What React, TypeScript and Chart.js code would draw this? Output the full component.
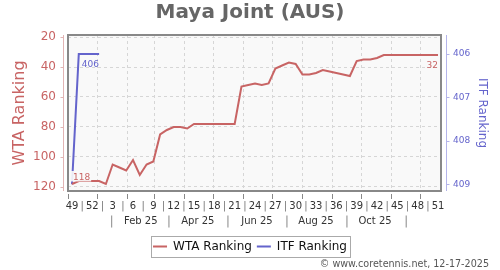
import React, { useEffect, useRef } from "react";
import { Chart, registerables } from "chart.js";

Chart.register(...registerables);

const TITLE = "Maya Joint (AUS)";
const FOOTER = "© www.coretennis.net, 12-17-2025";
const WTA_LABEL = "WTA Ranking";
const ITF_LABEL = "ITF Ranking";

// one point per week, from week 49 of 2024 to week 51 of 2025
const weekNumbers = [
  49, 50, 51, 52, 1, 2, 3, 4, 5, 6, 7, 8, 9, 10, 11, 12, 13, 14, 15, 16, 17, 18, 19,
  20, 21, 22, 23, 24, 25, 26, 27, 28, 29, 30, 31, 32, 33, 34, 35, 36, 37, 38, 39, 40,
  41, 42, 43, 44, 45, 46, 47, 48, 49, 50, 51,
];
const wtaRanking = [
  118, 116, 116, 116, 116, 118, 105, 107, 109, 102, 112, 105, 103, 85, 82, 80, 80, 81,
  78, 78, 78, 78, 78, 78, 78, 53, 52, 51, 52, 51, 41, 39, 37, 38, 45, 45, 44, 42, 43,
  44, 45, 46, 36, 35, 35, 34, 32, 32, 32, 32, 32, 32, 32, 32, 32,
];
const itfRanking = [409, 406, 406, 406, 406];

const wtaTicks = [20, 40, 60, 80, 100, 120];
const itfTicks = [406, 407, 408, 409];

const firstWeekDate = "2024-12-06";
const monthGridDates = [
  "2025-01-01", "2025-02-01", "2025-03-01", "2025-04-01", "2025-05-01", "2025-06-01",
  "2025-07-01", "2025-08-01", "2025-09-01", "2025-10-01", "2025-11-01", "2025-12-01",
];
const monthLabels = ["Feb 25", "Apr 25", "Jun 25", "Aug 25", "Oct 25"];
const monthLabelDates = ["2025-02-15", "2025-04-15", "2025-06-15", "2025-08-15", "2025-10-15"];
const monthSeparatorDates = [
  "2025-01-16", "2025-03-16", "2025-05-16", "2025-07-16", "2025-09-16", "2025-11-16",
];

const X_MIN = -0.59;
const X_MAX = 54.44;
const WTA_MIN = 18.66;
const WTA_MAX = 122.68;
const ITF_MIN = 405.56;
const ITF_MAX = 409.155;

const RED = "#c86464";
const BLUE = "#6464cc";
const FONT = "'DejaVu Sans', sans-serif";

const dateToIndex = (d: string) =>
  (Date.parse(d) - Date.parse(firstWeekDate)) / (7 * 86400000);

const weekTickObjs: { value: number; txt: string }[] = [];
for (let i = 0; i < weekNumbers.length; i += 3) {
  weekTickObjs.push({ value: i, txt: String(weekNumbers[i]) });
  if (i + 3 < weekNumbers.length) weekTickObjs.push({ value: i + 1.5, txt: "|" });
}
const monthTickObjs: { value: number; txt: string }[] = [];
monthSeparatorDates.forEach((d, k) => {
  monthTickObjs.push({ value: dateToIndex(d), txt: "|" });
  if (k < monthLabels.length)
    monthTickObjs.push({ value: dateToIndex(monthLabelDates[k]), txt: monthLabels[k] });
});
const monthGridTicks = monthGridDates.map(dateToIndex);

const decorPlugin = {
  id: "decor",
  beforeDraw(chart: any) {
    const { ctx, chartArea: a } = chart;
    ctx.save();
    ctx.fillStyle = "#f9f9f9";
    ctx.fillRect(a.left, a.top, a.right - a.left, a.bottom - a.top);
    ctx.restore();
  },
  afterDatasetsDraw(chart: any) {
    const ctx = chart.ctx;
    const wMeta = chart.getDatasetMeta(0);
    const iMeta = chart.getDatasetMeta(1);
    ctx.save();
    ctx.font = `9px ${FONT}`;
    ctx.textBaseline = "alphabetic";
    const p0 = wMeta.data[0];
    const t0 = String(wtaRanking[0]);
    const w0 = ctx.measureText(t0).width;
    ctx.fillStyle = "rgba(249,249,249,0.9)";
    ctx.fillRect(p0.x - 1, p0.y - 13, w0 + 3, 10.5);
    ctx.fillStyle = RED;
    ctx.textAlign = "left";
    ctx.fillText(t0, p0.x + 1, p0.y - 3.7);
    const last = wtaRanking.length - 1;
    const pl = wMeta.data[last];
    ctx.textAlign = "right";
    ctx.fillText(String(wtaRanking[last]), pl.x, pl.y + 12.7);
    const pi = iMeta.data[1];
    ctx.fillStyle = BLUE;
    ctx.textAlign = "left";
    ctx.fillText(String(itfRanking[1]), pi.x + 3, pi.y + 12.7);
    ctx.restore();
  },
  afterDraw(chart: any) {
    const { ctx, chartArea: a } = chart;
    ctx.save();
    // plot frame
    ctx.strokeStyle = "#888";
    ctx.lineWidth = 2;
    ctx.strokeRect(a.left, a.top, a.right - a.left, a.bottom - a.top);
    // left axis line
    const ys = chart.scales.y;
    const lx = Math.round(a.left - 5) + 0.5;
    ctx.lineWidth = 1;
    ctx.strokeStyle = "#e2b4b4";
    ctx.beginPath();
    ctx.moveTo(lx, a.top);
    ctx.lineTo(lx, a.bottom);
    wtaTicks.forEach((v) => {
      const py = Math.round(ys.getPixelForValue(v)) + 0.5;
      ctx.moveTo(lx - 3, py);
      ctx.lineTo(lx, py);
    });
    ctx.stroke();
    // right axis line
    const y2 = chart.scales.y2;
    const rx = Math.round(a.right + 5) + 0.5;
    ctx.strokeStyle = "#b4b4ea";
    ctx.beginPath();
    ctx.moveTo(rx, a.top);
    ctx.lineTo(rx, a.bottom);
    itfTicks.forEach((v) => {
      const py = Math.round(y2.getPixelForValue(v)) + 0.5;
      ctx.moveTo(rx, py);
      ctx.lineTo(rx + 3, py);
    });
    ctx.stroke();
    // legend frame
    const hb = chart.legend && chart.legend.legendHitBoxes;
    if (hb && hb.length) {
      const l = hb[0].left - 2.5;
      const lastHb = hb[hb.length - 1];
      const r = lastHb.left + lastHb.width + 2.5;
      const t = hb[0].top - 4.5;
      const b = hb[0].top + hb[0].height + 4.5;
      ctx.strokeStyle = "#aaa";
      ctx.lineWidth = 1;
      ctx.strokeRect(Math.round(l) + 0.5, Math.round(t) + 0.5, Math.round(r - l), Math.round(b - t));
    }
    // footer
    ctx.font = `9.6px ${FONT}`;
    ctx.fillStyle = "#555";
    ctx.textAlign = "right";
    ctx.textBaseline = "alphabetic";
    ctx.fillText(FOOTER, 489, 267);
    ctx.restore();
  },
};

export default function App() {
  const canvasRef = useRef<HTMLCanvasElement | null>(null);

  useEffect(() => {
    document.body.style.margin = "0";
    const canvas = canvasRef.current;
    if (!canvas) return;
    Chart.defaults.font.family = FONT;

    const xBase = { type: "linear", min: X_MIN, max: X_MAX, position: "bottom" };

    const chart = new Chart(canvas, {
      type: "line",
      data: {
        datasets: [
          {
            label: WTA_LABEL,
            data: wtaRanking.map((v, i) => ({ x: i, y: v })),
            borderColor: RED,
            backgroundColor: RED,
            borderWidth: 2,
            pointRadius: 0,
            tension: 0,
            xAxisID: "x",
            yAxisID: "y",
          },
          {
            label: ITF_LABEL,
            data: itfRanking.map((v, i) => ({ x: i, y: v })),
            borderColor: BLUE,
            backgroundColor: BLUE,
            borderWidth: 2,
            pointRadius: 0,
            tension: 0,
            xAxisID: "x",
            yAxisID: "y2",
          },
        ],
      },
      plugins: [decorPlugin],
      options: {
        animation: false,
        responsive: false,
        maintainAspectRatio: false,
        events: [],
        layout: { padding: { left: 0, right: 0, top: 0, bottom: 7.5 } },
        plugins: {
          title: {
            display: true,
            text: TITLE,
            color: "#666",
            font: { size: 20, weight: "bold", family: FONT },
            padding: { top: 1, bottom: 10 },
          },
          legend: {
            display: true,
            position: "bottom",
            labels: {
              boxWidth: 14,
              boxHeight: 2,
              padding: 5,
              color: "#111",
              font: { size: 12, family: FONT },
              generateLabels: (ch: any) =>
                ch.data.datasets.map((ds: any, i: number) => ({
                  text: ds.label,
                  fillStyle: ds.borderColor,
                  strokeStyle: ds.borderColor,
                  lineWidth: 0,
                  hidden: false,
                  datasetIndex: i,
                  fontColor: "#111",
                })),
            },
          },
          tooltip: { enabled: false },
        },
        scales: {
          x: {
            ...xBase,
            weight: 0,
            afterBuildTicks: (s: any) => {
              s.ticks = monthGridTicks.map((v) => ({ value: v }));
            },
            ticks: { display: false },
            grid: { color: "#d6d6d6", lineWidth: 1, drawTicks: false },
            border: { display: false, dash: [3, 3] },
            afterFit: (s: any) => {
              s.height = 3;
            },
          },
          xm: {
            ...xBase,
            weight: 1,
            afterBuildTicks: (s: any) => {
              s.ticks = [X_MIN, ...monthGridTicks].map((v) => ({ value: v }));
            },
            ticks: { display: false },
            grid: {
              drawOnChartArea: false,
              drawTicks: true,
              tickLength: 5,
              tickColor: "#888",
              color: "#888",
            },
            border: { display: false },
            afterFit: (s: any) => {
              s.height = 6;
            },
          },
          xw: {
            ...xBase,
            weight: 2,
            afterBuildTicks: (s: any) => {
              s.ticks = weekTickObjs.map((t) => ({ ...t }));
            },
            ticks: {
              autoSkip: false,
              maxRotation: 0,
              minRotation: 0,
              padding: 0,
              font: { size: 10, family: FONT },
              color: (c: any) => (c.tick && c.tick.txt === "|" ? "#777" : "#333"),
              callback: (_v: any, i: number, ticks: any[]) => ticks[i].txt,
            },
            grid: { display: false, drawTicks: false },
            border: { display: false },
            afterFit: (s: any) => {
              s.height = 15.5;
            },
          },
          xmo: {
            ...xBase,
            weight: 3,
            afterBuildTicks: (s: any) => {
              s.ticks = monthTickObjs.map((t) => ({ ...t }));
            },
            ticks: {
              autoSkip: false,
              maxRotation: 0,
              minRotation: 0,
              padding: 0,
              font: (c: any) =>
                c.tick && c.tick.txt === "|"
                  ? { size: 11.5, family: FONT }
                  : { size: 10, family: FONT },
              color: (c: any) => (c.tick && c.tick.txt === "|" ? "#888" : "#333"),
              callback: (_v: any, i: number, ticks: any[]) => ticks[i].txt,
            },
            grid: { display: false, drawTicks: false },
            border: { display: false },
            afterFit: (s: any) => {
              s.height = 20;
            },
          },
          y: {
            type: "linear",
            position: "left",
            reverse: true,
            min: WTA_MIN,
            max: WTA_MAX,
            afterBuildTicks: (s: any) => {
              s.ticks = wtaTicks.map((v) => ({ value: v }));
            },
            ticks: { padding: 12, color: RED, font: { size: 12, family: FONT } },
            grid: { color: "#d6d6d6", lineWidth: 1, drawTicks: false },
            border: { display: false, dash: [3, 3] },
            title: {
              display: true,
              text: WTA_LABEL,
              color: RED,
              font: { size: 16, family: FONT },
              padding: { top: 10, bottom: 0 },
            },
            afterFit: (s: any) => {
              s.width = 68;
            },
          },
          y2: {
            type: "linear",
            position: "right",
            reverse: true,
            min: ITF_MIN,
            max: ITF_MAX,
            afterBuildTicks: (s: any) => {
              s.ticks = itfTicks.map((v) => ({ value: v }));
            },
            ticks: { padding: 12, color: BLUE, font: { size: 9, family: FONT } },
            grid: { display: false, drawTicks: false },
            border: { display: false },
            title: {
              display: true,
              text: ITF_LABEL,
              color: BLUE,
              font: { size: 12, family: FONT },
              padding: { top: 11, bottom: 0 },
            },
            afterFit: (s: any) => {
              s.width = 59;
            },
          },
        },
      } as any,
    });

    return () => {
      chart.destroy();
    };
  }, []);

  return (
    <div style={{ width: 500, height: 270, background: "#fff" }}>
      <canvas ref={canvasRef} width={500} height={270} style={{ display: "block" }} />
    </div>
  );
}
